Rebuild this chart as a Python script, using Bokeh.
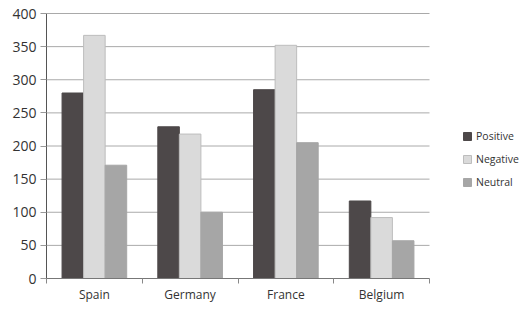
from bokeh.plotting import figure
from bokeh.models import (ColumnDataSource, FixedTicker, Range1d, Legend, LegendItem)
from bokeh.transform import dodge
from bokeh.embed import file_html
from bokeh.resources import INLINE

countries = ["Spain", "Germany", "France", "Belgium"]
positive = [280, 229, 285, 117]
negative = [367, 218, 352, 92]
neutral = [171, 100, 205, 57]
y_ticks = [0, 50, 100, 150, 200, 250, 300, 350, 400]

FONT = "Open Sans"
W, H = 520, 305
LEFT, TOP, PLOT_RIGHT = 46, 13, 429
n = len(countries)
x_end = n * (W - LEFT) / (PLOT_RIGHT - LEFT)

centers = [i + 0.5 for i in range(n)]
src = ColumnDataSource(dict(x=centers, country=countries, positive=positive,
                            negative=negative, neutral=neutral))

p = figure(width=W, height=H, output_backend="svg", toolbar_location=None,
           x_range=Range1d(0, x_end), y_range=Range1d(0, max(y_ticks)),
           min_border_left=LEFT, min_border_top=TOP, min_border_bottom=21, min_border_right=0)
p.outline_line_color = None
p.xgrid.grid_line_color = None
p.ygrid.grid_line_color = None

# horizontal grid lines limited to the category area
grid_colors = ["#aaaaaa"] * (len(y_ticks) - 1) + ["#555555"]
p.segment(x0=[0] * len(y_ticks), x1=[n] * len(y_ticks), y0=y_ticks, y1=y_ticks,
          line_color=grid_colors, line_width=1)

bw = 0.225
r1 = p.vbar(x=dodge("x", -bw, range=p.x_range), top="positive", width=bw, source=src,
            fill_color="#4d4849", line_color="#4d4849")
r2 = p.vbar(x=dodge("x", 0, range=p.x_range), top="negative", width=bw, source=src,
            fill_color="#dadada", line_color="#bdbdbd")
r3 = p.vbar(x=dodge("x", bw, range=p.x_range), top="neutral", width=bw, source=src,
            fill_color="#a6a6a6", line_color="#a6a6a6")

p.xaxis.bounds = (0, n)
p.xaxis.ticker = FixedTicker(ticks=centers, minor_ticks=list(range(n + 1)))
p.xaxis.major_label_overrides = {c: name for c, name in zip(centers, countries)}
p.xaxis.major_tick_line_color = None
p.xaxis.major_tick_out = 0
p.xaxis.major_tick_in = 0
p.xaxis.minor_tick_line_color = "#888888"
p.xaxis.minor_tick_out = 5
p.xaxis.minor_tick_in = 0
p.xaxis.axis_line_color = "#777777"
p.xaxis.major_label_text_font = FONT
p.xaxis.major_label_text_font_size = "12px"
p.xaxis.major_label_text_color = "#333333"
p.xaxis.major_label_standoff = 2

p.yaxis.ticker = FixedTicker(ticks=y_ticks)
p.yaxis.minor_tick_line_color = None
p.yaxis.major_tick_line_color = "#999999"
p.yaxis.major_tick_out = 6
p.yaxis.major_tick_in = 0
p.yaxis.axis_line_color = "#555555"
p.yaxis.major_label_text_font = FONT
p.yaxis.major_label_text_font_size = "14px"
p.yaxis.major_label_text_color = "#333333"
p.yaxis.major_label_standoff = 4

legend = Legend(items=[LegendItem(label="Positive", renderers=[r1]),
                       LegendItem(label="Negative", renderers=[r2]),
                       LegendItem(label="Neutral", renderers=[r3])],
                location=(416, 89), orientation="vertical",
                label_text_font=FONT, label_text_font_size="10.5px", label_text_color="#333333",
                glyph_width=10, glyph_height=10, spacing=9, label_height=12, label_standoff=4,
                background_fill_alpha=0, border_line_color=None, padding=0, margin=0)
p.add_layout(legend)

open("out.html", "w").write(file_html(p, INLINE))
